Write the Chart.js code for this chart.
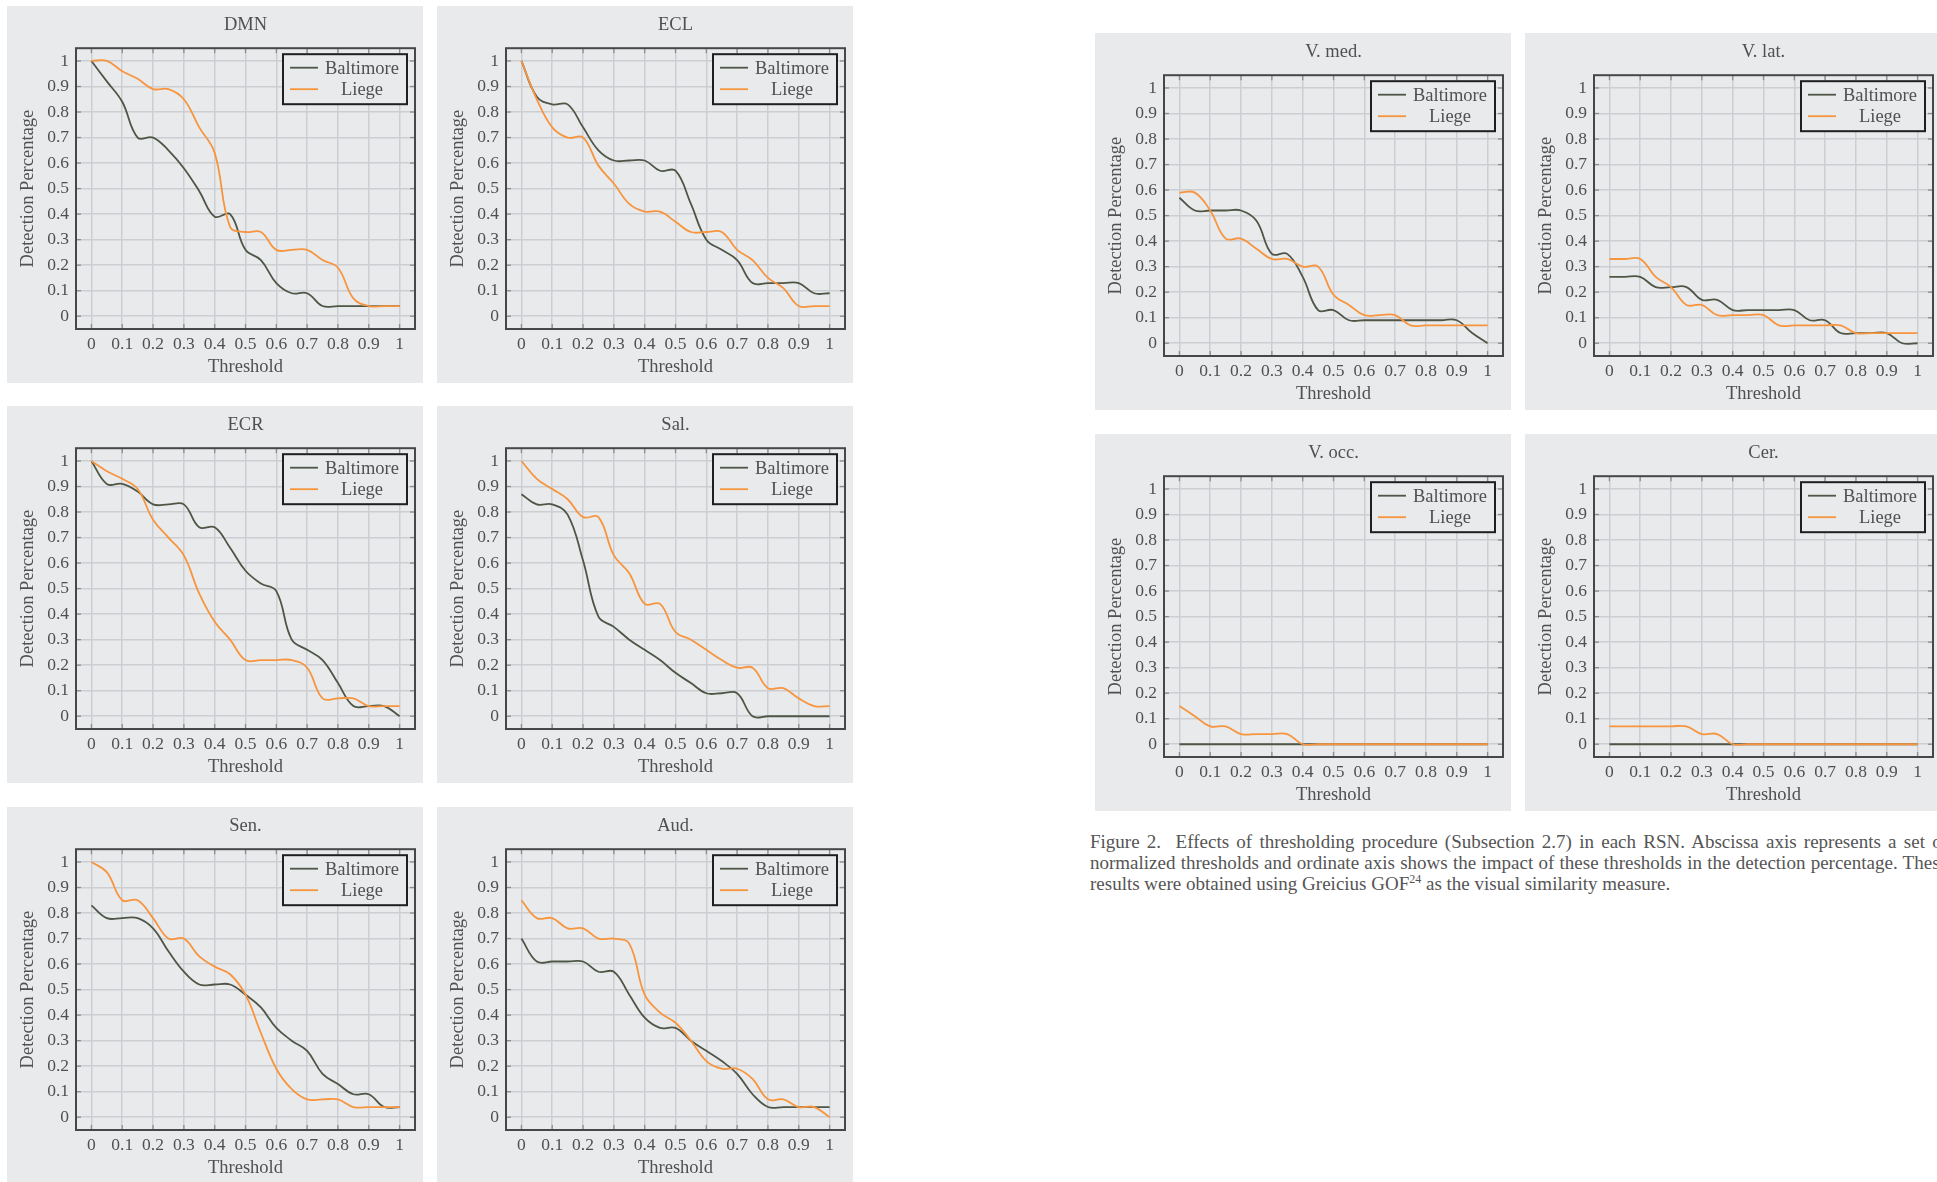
<!DOCTYPE html>
<html>
<head>
<meta charset="utf-8">
<script src="https://cdn.jsdelivr.net/npm/chart.js@4.4.1/dist/chart.umd.min.js"></script>
<style>
  body { margin: 0; background: #fff; width: 1937px; height: 1182px; overflow: hidden; position: relative; font-family: 'Liberation Serif', serif; }
  .panel { position: absolute; width: 416px; height: 377px; background: #e9eaec; }
  .caption { position: absolute; left: 1090px; top: 831px; width: 858px; font-size: 19px; line-height: 21px; color: #555; }
  .caption .j { text-align: justify; text-align-last: justify; white-space: nowrap; }
  .caption sup { font-size: 12px; line-height: 0; }
</style>
</head>
<body>
<div class="caption">
  <div class="j">Figure 2.&nbsp; Effects of thresholding procedure (Subsection 2.7) in each RSN. Abscissa axis represents a set of</div>
  <div class="j">normalized thresholds and ordinate axis shows the impact of these thresholds in the detection percentage. These</div>
  <div>results were obtained using Greicius GOF<sup>24</sup> as the visual similarity measure.</div>
</div>
<script>
// thresholds sampled every 0.05
const thresholds = [0, 0.05, 0.1, 0.15, 0.2, 0.25, 0.3, 0.35, 0.4, 0.45, 0.5, 0.55, 0.6, 0.65, 0.7, 0.75, 0.8, 0.85, 0.9, 0.95, 1];
const tickValues = [0, 0.1, 0.2, 0.3, 0.4, 0.5, 0.6, 0.7, 0.8, 0.9, 1];
const tickLabels = ['0', '0.1', '0.2', '0.3', '0.4', '0.5', '0.6', '0.7', '0.8', '0.9', '1'];
const seriesNames = ['Baltimore', 'Liege'];

const dmnBaltimore = [1, 0.92, 0.84, 0.70, 0.70, 0.65, 0.58, 0.49, 0.39, 0.40, 0.26, 0.22, 0.13, 0.09, 0.09, 0.04, 0.04, 0.04, 0.04, 0.04, 0.04];
const dmnLiege     = [1, 1, 0.96, 0.93, 0.89, 0.89, 0.85, 0.74, 0.64, 0.35, 0.33, 0.33, 0.26, 0.26, 0.26, 0.22, 0.19, 0.07, 0.04, 0.04, 0.04];
const eclBaltimore = [1, 0.86, 0.83, 0.83, 0.74, 0.65, 0.61, 0.61, 0.61, 0.57, 0.57, 0.44, 0.30, 0.26, 0.22, 0.13, 0.13, 0.13, 0.13, 0.09, 0.09];
const eclLiege     = [1, 0.85, 0.74, 0.70, 0.70, 0.59, 0.52, 0.44, 0.41, 0.41, 0.37, 0.33, 0.33, 0.33, 0.26, 0.22, 0.15, 0.11, 0.04, 0.04, 0.04];
const ecrBaltimore = [1, 0.91, 0.91, 0.88, 0.83, 0.83, 0.83, 0.74, 0.74, 0.66, 0.57, 0.52, 0.49, 0.30, 0.26, 0.22, 0.13, 0.04, 0.04, 0.04, 0];
const ecrLiege     = [1, 0.96, 0.93, 0.89, 0.77, 0.70, 0.63, 0.48, 0.37, 0.30, 0.22, 0.22, 0.22, 0.22, 0.19, 0.07, 0.07, 0.07, 0.04, 0.04, 0.04];
const salBaltimore = [0.87, 0.83, 0.83, 0.79, 0.61, 0.39, 0.35, 0.30, 0.26, 0.22, 0.17, 0.13, 0.09, 0.09, 0.09, 0, 0, 0, 0, 0, 0];
const salLiege     = [1, 0.93, 0.89, 0.85, 0.78, 0.78, 0.63, 0.56, 0.44, 0.44, 0.33, 0.30, 0.26, 0.22, 0.19, 0.19, 0.11, 0.11, 0.07, 0.04, 0.04];
const senBaltimore = [0.83, 0.78, 0.78, 0.78, 0.74, 0.65, 0.57, 0.52, 0.52, 0.52, 0.48, 0.43, 0.35, 0.30, 0.26, 0.17, 0.13, 0.09, 0.09, 0.04, 0.04];
const senLiege     = [1, 0.96, 0.85, 0.85, 0.78, 0.70, 0.70, 0.63, 0.59, 0.56, 0.48, 0.33, 0.19, 0.11, 0.07, 0.07, 0.07, 0.04, 0.04, 0.04, 0.04];
const audBaltimore = [0.70, 0.61, 0.61, 0.61, 0.61, 0.57, 0.57, 0.48, 0.39, 0.35, 0.35, 0.30, 0.26, 0.22, 0.17, 0.09, 0.04, 0.04, 0.04, 0.04, 0.04];
const audLiege     = [0.85, 0.78, 0.78, 0.74, 0.74, 0.70, 0.70, 0.68, 0.48, 0.41, 0.37, 0.30, 0.22, 0.19, 0.19, 0.15, 0.07, 0.07, 0.04, 0.04, 0];
const vmedBaltimore = [0.57, 0.52, 0.52, 0.52, 0.52, 0.48, 0.35, 0.35, 0.26, 0.13, 0.13, 0.09, 0.09, 0.09, 0.09, 0.09, 0.09, 0.09, 0.09, 0.04, 0];
const vmedLiege     = [0.59, 0.59, 0.52, 0.41, 0.41, 0.37, 0.33, 0.33, 0.30, 0.30, 0.19, 0.15, 0.11, 0.11, 0.11, 0.07, 0.07, 0.07, 0.07, 0.07, 0.07];
const vlatBaltimore = [0.26, 0.26, 0.26, 0.22, 0.22, 0.22, 0.17, 0.17, 0.13, 0.13, 0.13, 0.13, 0.13, 0.09, 0.09, 0.04, 0.04, 0.04, 0.04, 0, 0];
const vlatLiege     = [0.33, 0.33, 0.33, 0.26, 0.22, 0.15, 0.15, 0.11, 0.11, 0.11, 0.11, 0.07, 0.07, 0.07, 0.07, 0.07, 0.04, 0.04, 0.04, 0.04, 0.04];
const voccBaltimore = [0, 0, 0, 0, 0, 0, 0, 0, 0, 0, 0, 0, 0, 0, 0, 0, 0, 0, 0, 0, 0];
const voccLiege     = [0.15, 0.11, 0.07, 0.07, 0.04, 0.04, 0.04, 0.04, 0, 0, 0, 0, 0, 0, 0, 0, 0, 0, 0, 0, 0];
const cerBaltimore = [0, 0, 0, 0, 0, 0, 0, 0, 0, 0, 0, 0, 0, 0, 0, 0, 0, 0, 0, 0, 0];
const cerLiege     = [0.07, 0.07, 0.07, 0.07, 0.07, 0.07, 0.04, 0.04, 0, 0, 0, 0, 0, 0, 0, 0, 0, 0, 0, 0, 0];

const panels = [
  { title: 'DMN',     left: 7,    top: 6,   series: [dmnBaltimore, dmnLiege] },
  { title: 'ECL',     left: 437,  top: 6,   series: [eclBaltimore, eclLiege] },
  { title: 'ECR',     left: 7,    top: 406, series: [ecrBaltimore, ecrLiege] },
  { title: 'Sal.',    left: 437,  top: 406, series: [salBaltimore, salLiege] },
  { title: 'Sen.',    left: 7,    top: 807, series: [senBaltimore, senLiege] },
  { title: 'Aud.',    left: 437,  top: 807, series: [audBaltimore, audLiege] },
  { title: 'V. med.', left: 1095, top: 33,  series: [vmedBaltimore, vmedLiege] },
  { title: 'V. lat.', left: 1525, top: 33,  series: [vlatBaltimore, vlatLiege] },
  { title: 'V. occ.', left: 1095, top: 434, series: [voccBaltimore, voccLiege] },
  { title: 'Cer.',    left: 1525, top: 434, series: [cerBaltimore, cerLiege] }
];

const BG = '#e9eaec';
const TXT = '#505050';
const GRID = '#cdced1';
const colors = ['#4e5646', '#f7953f'];
const FAMILY = "'Liberation Serif', serif";
const FONT = { family: FAMILY, size: 18.5, weight: 'normal' };
const TICK_FONT = { family: FAMILY, size: 17.5, weight: 'normal' };

// frame, inward ticks and boxed legend (pgfplots look)
const framePlugin = {
  id: 'frame',
  afterDatasetsDraw(chart) {
    const { ctx, chartArea: a, scales: { x, y } } = chart;
    ctx.save();
    const seg = (x1, y1, x2, y2) => { ctx.beginPath(); ctx.moveTo(x1, y1); ctx.lineTo(x2, y2); ctx.stroke(); };
    ctx.strokeStyle = '#8c8d90';
    ctx.lineWidth = 1.3;
    tickValues.forEach(v => {
      const px = x.getPixelForValue(v);
      seg(px, a.bottom, px, a.bottom - 5);
      seg(px, a.top, px, a.top + 5);
      const py = y.getPixelForValue(v);
      seg(a.left, py, a.left + 5, py);
      seg(a.right, py, a.right - 5, py);
    });
    ctx.strokeStyle = '#474747';
    ctx.lineWidth = 2;
    ctx.strokeRect(a.left, a.top, a.width, a.height);

    // legend
    const w = 124, h = 50;
    const lx = a.right - 8 - w, ly = a.top + 6;
    ctx.fillStyle = BG;
    ctx.fillRect(lx, ly, w, h);
    ctx.strokeStyle = '#1f1f1f';
    ctx.lineWidth = 2;
    ctx.strokeRect(lx, ly, w, h);
    ctx.font = `${FONT.size}px ${FONT.family}`;
    ctx.textAlign = 'center';
    ctx.textBaseline = 'middle';
    chart.data.datasets.forEach((ds, i) => {
      const yy = ly + 13.5 + i * 21.5;
      ctx.strokeStyle = ds.borderColor;
      ctx.lineWidth = 1.8;
      seg(lx + 7, yy, lx + 35, yy);
      ctx.fillStyle = TXT;
      ctx.fillText(ds.label, lx + 79, yy + 1);
    });
    ctx.restore();
  }
};

panels.forEach(p => {
  const div = document.createElement('div');
  div.className = 'panel';
  div.style.left = p.left + 'px';
  div.style.top = p.top + 'px';
  const canvas = document.createElement('canvas');
  canvas.width = 416;
  canvas.height = 377;
  div.appendChild(canvas);
  document.body.appendChild(div);

  new Chart(canvas.getContext('2d'), {
    type: 'line',
    data: {
      datasets: p.series.map((vals, i) => ({
        label: seriesNames[i],
        data: vals.map((v, k) => ({ x: thresholds[k], y: v })),
        borderColor: colors[i],
        borderWidth: 1.8,
        pointRadius: 0,
        tension: 0.4,
        fill: false,
        order: 1 - i
      }))
    },
    options: {
      responsive: false,
      animation: false,
      events: [],
      layout: { padding: { left: 0, right: 8, top: 0, bottom: 0 } },
      plugins: {
        legend: { display: false },
        tooltip: { enabled: false },
        title: { display: true, fullSize: false, text: p.title, color: TXT, font: FONT, padding: { top: 8, bottom: 12 } }
      },
      scales: {
        x: {
          type: 'linear', min: -0.05, max: 1.05,
          afterBuildTicks: s => { s.ticks = tickValues.map(v => ({ value: v })); },
          afterFit: s => { s.height = 54; },
          ticks: { callback: (v, i) => tickLabels[i], color: TXT, font: TICK_FONT, padding: 5, maxRotation: 0, autoSkip: false },
          grid: { color: GRID, lineWidth: 1.5, drawTicks: false },
          border: { display: false },
          title: { display: true, text: 'Threshold', color: TXT, font: FONT, padding: { top: 0, bottom: 5 } }
        },
        y: {
          type: 'linear', min: -0.05, max: 1.05,
          afterBuildTicks: s => { s.ticks = tickValues.map(v => ({ value: v })); },
          afterFit: s => { s.width = 69; },
          ticks: { callback: (v, i) => tickLabels[i], color: TXT, font: TICK_FONT, padding: 7, autoSkip: false },
          grid: { color: GRID, lineWidth: 1.5, drawTicks: false },
          border: { display: false },
          title: { display: true, text: 'Detection Percentage', color: TXT, font: FONT, padding: { top: 10, bottom: 0 } }
        }
      }
    },
    plugins: [framePlugin]
  });
});
</script>
</body>
</html>
